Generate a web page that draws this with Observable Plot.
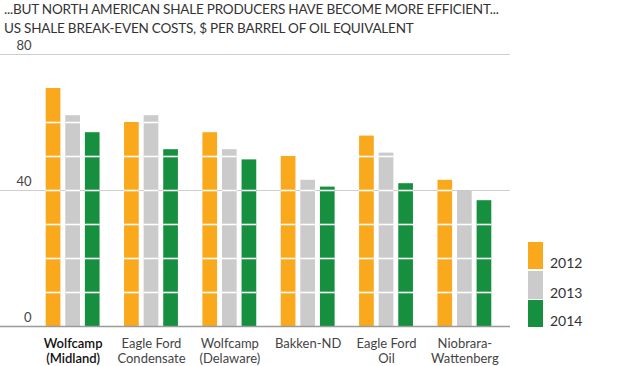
<!DOCTYPE html>
<html>
<head>
<meta charset="utf-8">
<script src="https://cdn.jsdelivr.net/npm/d3@7"></script>
<script src="https://cdn.jsdelivr.net/npm/@observablehq/plot@0.6"></script>
<style>
  html, body { margin: 0; padding: 0; background: #fff; }
  body { width: 620px; height: 366px; position: relative; overflow: hidden; font-family: Lato, "Open Sans", sans-serif; color: #333; }
  .hdr { height: 38px; padding-left: 4px; }
  .hdr div { font-size: 13.5px; line-height: 19px; white-space: nowrap; letter-spacing: -0.2px; }
  #chart svg { display: block; }
  .legend { position: absolute; left: 528px; top: 242px; }
  .legend .sw { position: absolute; left: 0; width: 15px; }
  .legend .lb { position: absolute; left: 22px; font-size: 14px; line-height: 16px; color: #333; }
</style>
</head>
<body>
<div class="hdr">
  <div id="title"></div>
  <div id="subtitle"></div>
</div>
<div id="chart"></div>
<div class="legend" id="legend"></div>
<script>
const title = "...BUT NORTH AMERICAN SHALE PRODUCERS HAVE BECOME MORE EFFICIENT...";
const subtitle = "US SHALE BREAK-EVEN COSTS, $ PER BARREL OF OIL EQUIVALENT";
const regions = ["Wolfcamp (Midland)", "Eagle Ford Condensate", "Wolfcamp (Delaware)", "Bakken-ND", "Eagle Ford Oil", "Niobrara-Wattenberg"];
const regionLabels = ["Wolfcamp\n(Midland)", "Eagle Ford\nCondensate", "Wolfcamp\n(Delaware)", "Bakken-ND", "Eagle Ford\nOil", "Niobrara-\nWattenberg"];
const years = ["2012", "2013", "2014"];
const values2012 = [70, 60, 57, 50, 56, 43];
const values2013 = [62, 62, 52, 43, 51, 40];
const values2014 = [57, 52, 49, 41, 42, 37];
const yTicks = [0, 40, 80];
const stripeLevels = [10, 20, 30, 40, 50, 60, 70];
const colors = ["#F9A91B", "#CBCBCB", "#168F3F"];

document.getElementById("title").textContent = title;
document.getElementById("subtitle").textContent = subtitle;

const series = [values2012, values2013, values2014];
const rows = [];
regions.forEach((r, i) => years.forEach((y, j) => rows.push({region: r, year: y, key: r + "|" + y, value: series[j][i]})));

const domain = [];
regions.forEach((r, i) => {
  years.forEach(y => domain.push(r + "|" + y));
  if (i < regions.length - 1) domain.push("gap" + i);
});

const stripes = [];
rows.forEach(d => stripeLevels.forEach(l => { if (l < d.value - 0.5) stripes.push({key: d.key, level: l}); }));
const labelRows = regions.map((r, i) => ({key: r + "|2013", label: regionLabels[i], first: i === 0}));

const chart = Plot.plot({
  width: 620,
  height: 328,
  marginLeft: 0,
  marginRight: 110,
  marginTop: 16,
  marginBottom: 40,
  x: {domain, range: [45.7, 491.3], paddingInner: 0.25, paddingOuter: 0, round: false, axis: null},
  y: {domain: [0, 80], axis: null},
  color: {domain: years, range: colors},
  style: {fontFamily: "Lato, 'Open Sans', sans-serif", background: "transparent"},
  marks: [
    Plot.ruleY([40, 80], {stroke: "#cfcfcf", strokeWidth: 1}),
    Plot.barY(rows, {x: "key", y: "value", fill: "year"}),
    Plot.tickY(stripes, {x: "key", y: "level", stroke: "white", strokeWidth: 1.6}),
    Plot.ruleY([0], {stroke: "#9a9a9a", strokeWidth: 1.5}),
    Plot.text(yTicks, {y: d => d, text: d => String(d), frameAnchor: "left", dx: 31, dy: -9, textAnchor: "end", lineAnchor: "middle", fontSize: 13, fill: "#444"}),
    Plot.text(labelRows.filter(d => d.first), {x: "key", text: "label", frameAnchor: "bottom", lineAnchor: "top", dy: 12, fontSize: 13, lineHeight: 1.08, fill: "#111", fontWeight: 600}),
    Plot.text(labelRows.filter(d => !d.first), {x: "key", text: "label", frameAnchor: "bottom", lineAnchor: "top", dy: 12, fontSize: 13, lineHeight: 1.08, fill: "#444"})
  ]
});
document.getElementById("chart").appendChild(chart);

const legend = document.getElementById("legend");
const swTops = [0, 28.7, 58];
const swHeights = [27.3, 28, 26.7];
years.forEach((y, i) => {
  const sw = document.createElement("div");
  sw.className = "sw";
  sw.style.top = swTops[i] + "px";
  sw.style.height = swHeights[i] + "px";
  sw.style.background = colors[i];
  legend.appendChild(sw);
  const lb = document.createElement("div");
  lb.className = "lb";
  lb.style.top = (swTops[i] + swHeights[i] - 14) + "px";
  lb.textContent = y;
  legend.appendChild(lb);
});
</script>
</body>
</html>
